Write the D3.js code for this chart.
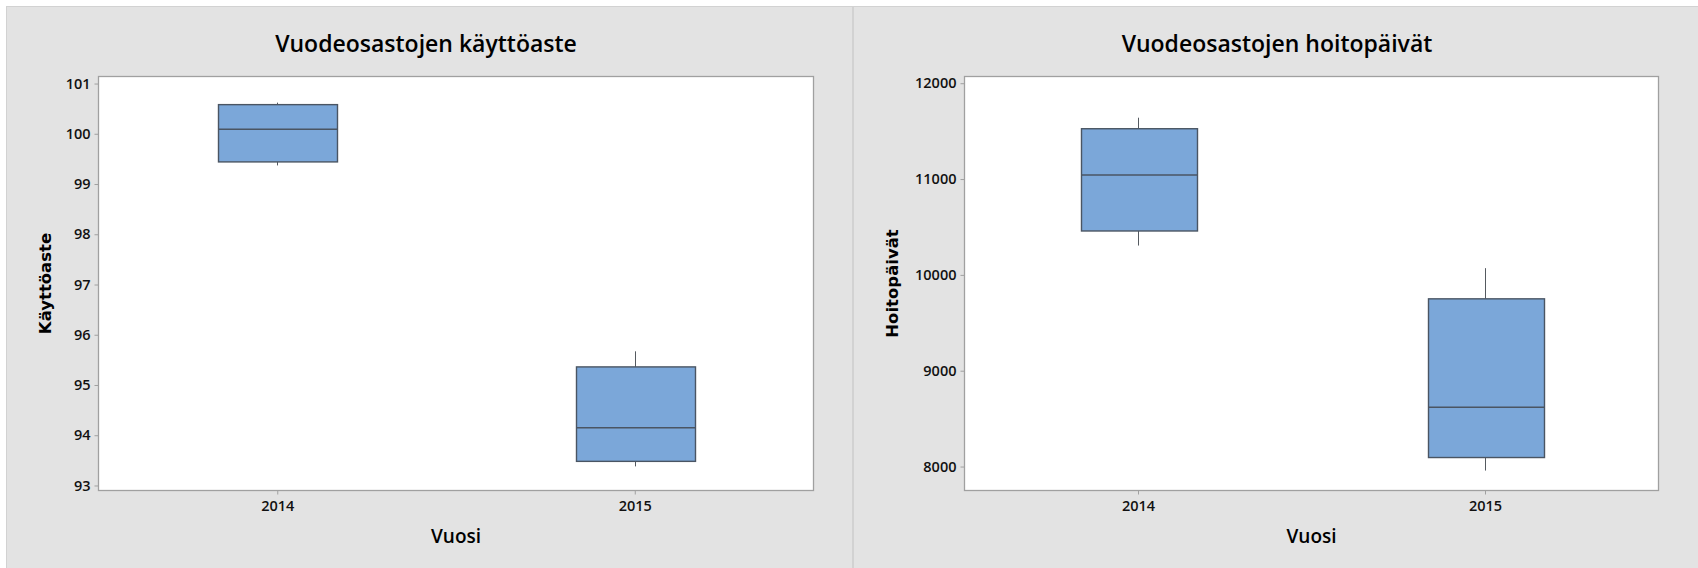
<!DOCTYPE html>
<html>
<head>
<meta charset="utf-8">
<script src="https://cdn.jsdelivr.net/npm/d3@7"></script>
<style>
  html, body { margin: 0; padding: 0; background: #ffffff; }
  svg { display: block; }
</style>
</head>
<body>
<svg id="chart" width="1698" height="568"></svg>
<script>
// ---- data ----
const years = ["2014", "2015"];

// Vuodeosastojen käyttöaste
const kayttoMin    = [99.37, 93.38];
const kayttoQ1     = [99.44, 93.48];
const kayttoMedian = [100.09, 94.15];
const kayttoQ3     = [100.58, 95.36];
const kayttoMax    = [100.62, 95.67];
const kayttoTicks  = [93, 94, 95, 96, 97, 98, 99, 100, 101];

// Vuodeosastojen hoitopäivät
const hoitoMin    = [10306, 7958];
const hoitoQ1     = [10458, 8094];
const hoitoMedian = [11042, 8619];
const hoitoQ3     = [11525, 9750];
const hoitoMax    = [11640, 10070];
const hoitoTicks  = [8000, 9000, 10000, 11000, 12000];

const panels = [
  {
    title: "Vuodeosastojen käyttöaste", ylabel: "Käyttöaste", xlabel: "Vuosi",
    min: kayttoMin, q1: kayttoQ1, med: kayttoMedian, q3: kayttoQ3, max: kayttoMax,
    ticks: kayttoTicks, domain: [92.90, 101.14],
    px: 7, pw: 846, titleX: 426,
    plot: { x0: 98.5, x1: 813.5, y0: 76.5, y1: 490.5 }, ylabelX: 51
  },
  {
    title: "Vuodeosastojen hoitopäivät", ylabel: "Hoitopäivät", xlabel: "Vuosi",
    min: hoitoMin, q1: hoitoQ1, med: hoitoMedian, q3: hoitoQ3, max: hoitoMax,
    ticks: hoitoTicks, domain: [7750, 12070],
    px: 854, pw: 850, titleX: 1277,
    plot: { x0: 964.5, x1: 1658.5, y0: 76.5, y1: 490.5 }, ylabelX: 898
  }
];

const svg = d3.select("#chart");
const FONT = "'Open Sans', 'Noto Sans', sans-serif";

panels.forEach(p => {
  const g = svg.append("g");
  // panel background
  g.append("rect")
    .attr("x", p.px - 0.5).attr("y", 6.5)
    .attr("width", p.pw).attr("height", 580)
    .attr("fill", "#e3e3e3").attr("stroke", "#d2d2d2").attr("stroke-width", 1);

  const x = d3.scalePoint().domain(years).range([p.plot.x0, p.plot.x1]).padding(0.5);
  const y = d3.scaleLinear().domain(p.domain).range([p.plot.y1, p.plot.y0]);

  // plot area
  g.append("rect")
    .attr("x", p.plot.x0).attr("y", p.plot.y0)
    .attr("width", p.plot.x1 - p.plot.x0).attr("height", p.plot.y1 - p.plot.y0)
    .attr("fill", "#ffffff").attr("stroke", "#a0a0a0").attr("stroke-width", 1.3);

  // axes
  const yAxis = d3.axisLeft(y).tickValues(p.ticks).tickSize(4).tickPadding(4).tickFormat(d3.format("d"));
  const ya = g.append("g").attr("transform", `translate(${p.plot.x0},0)`).call(yAxis);
  ya.select(".domain").remove();
  ya.selectAll(".tick line").attr("stroke", "#a0a0a0");
  ya.selectAll(".tick text").attr("font-family", FONT).attr("font-size", 14.5)
    .attr("font-weight", 600).attr("fill", "#111");

  const xAxis = d3.axisBottom(x).tickSize(4).tickPadding(6.5);
  const xa = g.append("g").attr("transform", `translate(0,${p.plot.y1})`).call(xAxis);
  xa.select(".domain").remove();
  xa.selectAll(".tick line").attr("stroke", "#a0a0a0");
  xa.selectAll(".tick text").attr("font-family", FONT).attr("font-size", 14.5)
    .attr("font-weight", 600).attr("fill", "#111");

  // boxes
  const bw = x.step() / 3;
  years.forEach((yr, i) => {
    const cx = Math.round(x(yr)) + 0.5;
    // whiskers
    g.append("line").attr("x1", cx).attr("x2", cx)
      .attr("y1", y(p.max[i])).attr("y2", y(p.q3[i]))
      .attr("stroke", "#555a60").attr("stroke-width", 1);
    g.append("line").attr("x1", cx).attr("x2", cx)
      .attr("y1", y(p.q1[i])).attr("y2", y(p.min[i]))
      .attr("stroke", "#555a60").attr("stroke-width", 1);
    // box
    g.append("rect")
      .attr("x", Math.round(cx - bw / 2) + 0.5).attr("y", y(p.q3[i]))
      .attr("width", Math.round(bw)).attr("height", y(p.q1[i]) - y(p.q3[i]))
      .attr("fill", "#7ba7d9").attr("stroke", "#4a5563").attr("stroke-width", 1.4);
    // median
    g.append("line")
      .attr("x1", Math.round(cx - bw / 2) + 0.5).attr("x2", Math.round(cx - bw / 2) + 0.5 + Math.round(bw))
      .attr("y1", y(p.med[i])).attr("y2", y(p.med[i]))
      .attr("stroke", "#4a5563").attr("stroke-width", 1.6);
  });

  // title
  g.append("text").attr("x", p.titleX).attr("y", 52)
    .attr("text-anchor", "middle").attr("font-family", FONT).attr("font-size", 23)
    .attr("font-weight", 600).attr("fill", "#000").text(p.title);

  // x label
  g.append("text").attr("x", (p.plot.x0 + p.plot.x1) / 2).attr("y", 543)
    .attr("text-anchor", "middle").attr("font-family", FONT).attr("font-size", 19)
    .attr("font-weight", 600).attr("fill", "#000").text(p.xlabel);

  // y label
  const cy = (p.plot.y0 + p.plot.y1) / 2;
  g.append("text").attr("transform", `translate(${p.ylabelX},${cy}) rotate(-90)`)
    .attr("text-anchor", "middle").attr("font-family", "'DejaVu Sans', sans-serif")
    .attr("font-weight", "bold").attr("font-size", 16.5)
    .attr("fill", "#000").text(p.ylabel);
});
</script>
</body>
</html>
